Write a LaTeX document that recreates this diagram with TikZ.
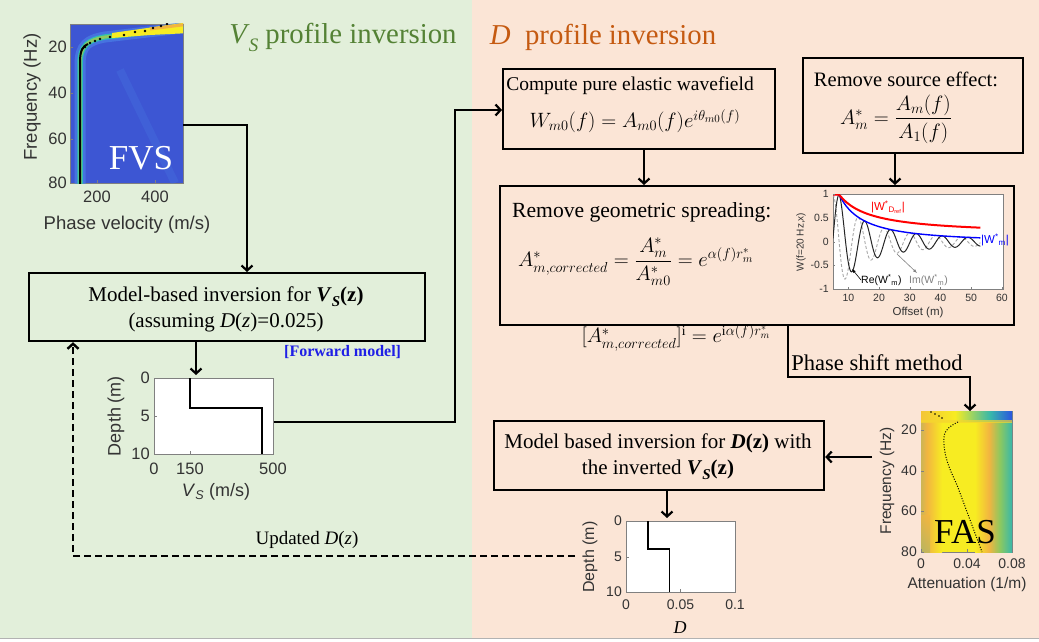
\documentclass[tikz,border=0pt]{standalone}
\usepackage{amsmath}
\usepackage{fontspec}
\setmainfont{Liberation Serif}
\setsansfont{Liberation Sans}
\usetikzlibrary{arrows.meta,calc}
\definecolor{bggreen}{HTML}{E2EFDA}
\definecolor{bgpink}{HTML}{FBE5D6}
\definecolor{tgreen}{HTML}{548235}
\definecolor{torange}{HTML}{C55A11}
\definecolor{fblue}{HTML}{1F1FE6}
\definecolor{pblue}{HTML}{3D56D3}
\definecolor{pblue2}{HTML}{4A7FE6}
\definecolor{pcyan}{HTML}{2DBDB4}
\definecolor{pyel}{HTML}{F7EC22}
\definecolor{porange}{HTML}{F2B540}
\definecolor{pgreen}{HTML}{8CC860}
\definecolor{pteal}{HTML}{38B8AA}
\definecolor{pdblue}{HTML}{2A55E0}
\definecolor{axgray}{HTML}{808080}
\newcommand\fsz[2]{\fontsize{#1}{#2}\selectfont}
\begin{document}
\begin{tikzpicture}[x=1pt,y=-1pt,
  box/.style={draw=black,line width=2.2pt,inner sep=0pt},
  conn/.style={line width=2.2pt,-{Straight Barb[length=5pt,width=11pt]}},
  fb/.style={line width=2.4pt,dash pattern=on 7pt off 4pt,-{Straight Barb[length=5pt,width=11pt]}},
  axbox/.style={draw=axgray,line width=0.7pt,inner sep=0pt,anchor=north west},
  tick/.style={font=\sffamily\fsz{16.5}{16.5},text=black!80,inner sep=1pt},
  stick/.style={font=\sffamily\fsz{14}{14},text=black!80,inner sep=1pt},
  itick/.style={font=\sffamily\fsz{10.5}{10.5},text=black!80,inner sep=1pt},
  mtext/.style={font=\fsz{21}{26},inner sep=0pt}]
\useasboundingbox (0,0) rectangle (1039,642);
% backgrounds
\fill[bggreen] (0,0) rectangle (472,638);
\fill[bgpink] (472,0) rectangle (1039,638);
\draw[gray!60,line width=1pt] (0,638.5) -- (1039,638.5);
% titles
\node[text=tgreen,font=\fsz{28.8}{32},inner sep=0pt] (t1) at (343,37) {\textit{V}\kern-1pt\raisebox{-0.28em}{\fsz{19}{19}\textit{S}} profile inversion};
\node[text=torange,font=\fsz{28.8}{32},inner sep=0pt] (t2) at (603,37) {\textit{D}\ \ profile inversion};
% ---------------- FVS plot
\node[axbox,minimum width=113pt,minimum height=159pt,fill=pblue] (fvs) at (70,24) {};
\begin{scope}
\clip (70,24) rectangle (183,183);
\draw[pblue2,line width=8pt,opacity=0.25] (120,70) -- (175,183);
\draw[pblue2,line width=11pt,opacity=0.7] (80,195) -- (80,65) .. controls (80,45) and (88,40) .. (105,37) -- (190,27);
\draw[pcyan,line width=5.5pt] (80,195) -- (80,65) .. controls (80,45) and (88,40) .. (105,37) -- (190,27);
\draw[pgreen,line width=3pt] (80,195) -- (80,65) .. controls (80,45) and (88,40) .. (105,37) -- (190,27);
\fill[pyel] (112,33) -- (190,22) -- (190,33) -- (150,35) -- (112,38) -- cycle;
\draw[porange,line width=3pt] (150,29) -- (190,24);
\draw[black,line width=2pt] (80,185) -- (80,62) .. controls (80,50) and (83,46) .. (88,44);
\foreach \px/\py in {85/47,90/43,95/41,100/39,110/37,124/35,135/32,145/31,153/28,161/26,167/24}
  \fill[black] (\px,\py) circle (1.3pt);
\end{scope}
\node[text=white,font=\fsz{35}{35},inner sep=0pt] (fvslab) at (141,158) {FVS};
\foreach \yy/\lab in {47/20,93/40,139/60,183/80}{
  \draw[axgray,line width=0.6pt] (70,\yy) -- (73,\yy);
  \node[tick,anchor=east] (fy\lab) at (68,\yy) {\lab};}
\foreach \xx/\lab in {97/200,155/400}{
  \draw[axgray,line width=0.6pt] (\xx,183) -- (\xx,180);
  \node[tick,anchor=north] (fx\lab) at (\xx,190) {\lab};}
\node[font=\sffamily\fsz{18.5}{18.5},text=black!80,rotate=90] (fvsyl) at (32,97) {Frequency (Hz)};
\node[font=\sffamily\fsz{18.5}{18.5},text=black!80] (fvsxl) at (127,225) {Phase velocity (m/s)};
% ---------------- box 1
\node[box,minimum width=396pt,minimum height=68pt,anchor=north west] (box1) at (28,272) {};
\node[mtext] (b1l1) at (226,297) {Model-based inversion for \textbf{\textit{V}}\raisebox{-0.25em}{\fsz{15}{15}\textbf{\textit{S}}}\textbf{(z)}};
\node[mtext] (b1l2) at (226,322) {(assuming \textit{D}(\textit{z})=0.025)};
\node[anchor=west,text=fblue,font=\bfseries\fsz{16}{16},inner sep=0pt] (fm) at (284,352) {[Forward model]};
\coordinate (a1s) at (183,125);
\draw[conn] (a1s) -| ($(box1.north west)+(219,0)$);
% ---------------- Vs depth plot
\node[axbox,minimum width=119pt,minimum height=76pt,fill=white] (vsp) at (154,378) {};
\draw[black,line width=1.8pt] (190,378) -- (190,408) -- (262,408) -- (262,454);
\foreach \yy/\lab in {378/0,416/5,454/10}{
  \draw[axgray,line width=0.6pt] (154,\yy) -- (157,\yy);
  \node[tick,anchor=east] (vy\lab) at (151,\yy) {\lab};}
\foreach \xx/\lab in {154/0,190/150,273/500}{
  \draw[axgray,line width=0.6pt] (\xx,454) -- (\xx,451);
  \node[tick,anchor=north] (vx\lab) at (\xx,462) {\lab};}
\node[font=\sffamily\fsz{18}{18},text=black!80,rotate=90] (vsyl) at (116,416) {Depth (m)};
\node[font=\sffamily\fsz{18}{18},text=black!80] (vsxl) at (216,492) {\textit{V}\textsubscript{\textit{S}} (m/s)};
\draw[conn,shorten >=3pt] ($(box1.south west)+(168,0)$) -- ($(vsp.north west)+(42,0)$);
% ---------------- compute box
\node[box,minimum width=272pt,minimum height=80pt,anchor=north west] (comp) at (502,68) {};
\node[font=\fsz{19.5}{24},inner sep=0pt] (cl1) at (630,86) {Compute pure elastic wavefield};
\node[font=\fsz{22.5}{26},inner sep=0pt] (cl2) at (635,121) {$W_{m0}(f) = A_{m0}(f)e^{i\theta_{m0}(f)}$};
\coordinate (c1) at (455,422);
\coordinate (c2) at (455,110);
\draw[conn] (vsp.east |- c1) -- (c1) -- (c2) -- (comp.west |- c2);
% ---------------- source box
\node[box,minimum width=220pt,minimum height=95pt,anchor=north west] (src) at (802,57) {};
\node[font=\fsz{20.5}{24},inner sep=0pt] (sl1) at (906,79) {Remove source effect:};
\node[font=\fsz{21}{26},inner sep=0pt] (sl2) at (896,119) {$A^*_m = \dfrac{A_m(f)}{A_1(f)}$};
% ---------------- geometric box
\node[box,minimum width=514pt,minimum height=139pt,anchor=north west] (geo) at (499,185) {};
\node[font=\fsz{21.6}{26},inner sep=0pt,anchor=west] (gl1) at (512,212) {Remove geometric spreading:};
\node[font=\fsz{21.5}{26},inner sep=0pt,anchor=west] (gl2) at (518,262) {$A^*_{m,corrected} = \dfrac{A^*_m}{A^*_{m0}} = e^{\alpha(f) r^*_m}$};
\draw[conn] ($(comp.south west)+(142,0)$) -- ($(geo.north west)+(145,0)$);
\draw[conn] ($(src.south west)+(93,0)$) -- ($(geo.north west)+(396,0)$);
% inset
\node[axbox,minimum width=170pt,minimum height=95pt,fill=white] (ins) at (833,194) {};
\begin{scope}
\clip (833,194) rectangle (1003,289);
\draw[gray!70,line width=0.9pt,dash pattern=on 3pt off 2pt] plot[domain=5:53,samples=200,smooth] ({833+(\x-5)*3.07},{242+47.5*sin((\x-7)*42.857)/(1+0.135*(max(\x,7)-7)+0.002*(max(\x,7)-7)*(max(\x,7)-7))});
\draw[black!85,line width=1pt] plot[domain=5:53,samples=200,smooth] ({833+(\x-5)*3.07},{242-47.5*cos((\x-7)*42.857)/(1+0.135*(max(\x,7)-7)+0.002*(max(\x,7)-7)*(max(\x,7)-7))});
\draw[blue,line width=1.4pt] plot[domain=5:53,samples=80,smooth] ({833+(\x-5)*3.07},{242-47.5/(1+0.135*(max(\x,7)-7)+0.002*(max(\x,7)-7)*(max(\x,7)-7))});
\draw[red,line width=2pt] plot[domain=5:53,samples=80,smooth] ({833+(\x-5)*3.07},{242-47.5*(0.15+0.85/(1+0.1*(max(\x,7)-7)))});
\end{scope}
\foreach \yy/\lab in {194/1,218/0.5,242/0,265/-0.5,289/-1}{
  \draw[axgray,line width=0.5pt] (833,\yy) -- (835,\yy);
  \node[itick,anchor=east] (iy\yy) at (830,\yy) {\lab};}
\foreach \xx/\lab in {10,20,30,40,50,60}{
  \draw[axgray,line width=0.5pt] ({833+(\xx-5)*3.07},289) -- ({833+(\xx-5)*3.07},287);
  \node[itick,anchor=north] (ix\xx) at ({833+(\xx-5)*3.07},293) {\lab};}
\node[font=\sffamily\fsz{10}{10},text=black!80,rotate=90] (insyl) at (801,242) {W(f=20 Hz,x)};
\node[font=\sffamily\fsz{11.5}{11.5},text=black!80] (insxl) at (918,313) {Offset (m)};
\node[font=\sffamily\fsz{11.5}{11.5},text=red,inner sep=0pt] (lred) at (888,207) {|W\textsuperscript{*}\textsubscript{D\textsubscript{ref}}|};
\node[font=\sffamily\fsz{11.5}{11.5},text=blue,inner sep=0pt] (lblue) at (995,240) {|W\textsuperscript{*}\textsubscript{m}|};
\node[font=\sffamily\fsz{10.5}{10.5},text=black,inner sep=0pt,anchor=west] (lre) at (861,280) {Re(W\textsuperscript{*}\textsubscript{m})};
\node[font=\sffamily\fsz{10.5}{10.5},text=gray,inner sep=0pt,anchor=west] (lim) at (909,280) {Im(W\textsuperscript{*}\textsubscript{m})};
\draw[black,line width=0.6pt,-{Latex[length=4pt,width=3pt]}] (lre.west) -- (852,269);
\coordinate (gim) at (897,254);
\draw[gray,line width=0.6pt,-{Latex[length=4pt,width=3pt]}] (gim) -- (917,273);
% ---------------- phase shift
\node[font=\fsz{19.5}{22},inner sep=0pt] (eqi) at (676,338) {$[A^*_{m,corrected}]^{\mathrm{i}} = e^{\mathrm{i}\alpha(f) r^*_m}$};
\node[font=\fsz{22.5}{26},inner sep=0pt] (psm) at (877,363) {Phase shift method};
% ---------------- FAS plot
\node[axbox,minimum width=91pt,minimum height=141pt,fill=pyel] (fas) at (921,411) {};
\begin{scope}
\clip (921,411) rectangle (1012,552);
\shade[left color=porange!80!pteal,right color=porange] (921,411) rectangle (927,552);
\shade[left color=porange,right color=pyel] (927,411) rectangle (942,552);
\fill[pyel] (942,411) rectangle (975,552);
\shade[left color=pyel,right color=porange] (975,411) rectangle (989,552);
\shade[left color=porange,right color=pgreen] (989,411) rectangle (1000,552);
\shade[left color=pgreen,right color=pteal] (1000,411) rectangle (1012,552);
\shade[top color=porange,bottom color=porange!60!pteal,opacity=0.6] (921,515) rectangle (930,552);
\shade[left color=porange!70!pyel,right color=pyel] (921,411) rectangle (955,421);
\shade[left color=pyel,right color=pteal] (955,411) rectangle (990,421);
\shade[left color=pteal,right color=pdblue] (990,411) rectangle (1012,421);
\fill[porange!40!pyel,opacity=0.7] (921,420) rectangle (1012,423);
\foreach \px/\py in {928/410,931/412,935/414,939/416,942/418}
  \fill[black] (\px,\py) circle (0.9pt);
\draw[black,line width=1pt,dash pattern=on 1pt off 1.6pt] (958,422) .. controls (950,426) and (944,430) .. (944,438) .. controls (943,455) and (950,470) .. (957,485) -- (982,552);
\end{scope}
\node[text=black,font=\fsz{35}{35},inner sep=0pt] (faslab) at (965,532) {FAS};
\foreach \yy/\lab in {430/20,471/40,511/60,552/80}{
  \draw[axgray,line width=0.6pt] (921,\yy) -- (924,\yy);
  \node[stick,anchor=east] (ay\lab) at (918,\yy) {\lab};}
\foreach \xx/\lab in {921/0,967/0.04,1012/0.08}{
  \draw[axgray,line width=0.6pt] (\xx,552) -- (\xx,549);
  \node[stick,anchor=north] (ax\xx) at (\xx,558) {\lab};}
\node[font=\sffamily\fsz{15.5}{15.5},text=black!80,rotate=90] (fasyl) at (887,481) {Frequency (Hz)};
\node[font=\sffamily\fsz{15.5}{15.5},text=black!80] (fasxl) at (967,584) {Attenuation (1/m)};
\coordinate (g1) at (788,377);
\draw[conn] ($(geo.south west)+(289,0)$) |- (g1) -| ($(fas.north west)+(49,0)$);
% ---------------- D box
\node[box,minimum width=330pt,minimum height=69pt,anchor=north west] (dbox) at (493,420) {};
\node[mtext] (dl1) at (658,443) {Model based inversion for \textbf{\textit{D}}\textbf{(z)} with};
\node[mtext] (dl2) at (658,470) {the inverted \textbf{\textit{V}}\raisebox{-0.25em}{\fsz{15}{15}\textbf{\textit{S}}}\textbf{(z)}};
\coordinate (f1) at (872,457);
\draw[conn] (f1) -- (dbox.east |- f1);
% ---------------- D depth plot
\node[axbox,minimum width=109pt,minimum height=71pt,fill=white] (dp) at (626,521) {};
\draw[black,line width=1.8pt] (648,521) -- (648,549) -- (669.5,549) -- (669.5,592);
\foreach \yy/\lab in {521/0,557/5,592/10}{
  \draw[axgray,line width=0.6pt] (626,\yy) -- (629,\yy);
  \node[stick,anchor=east] (dy\lab) at (623,\yy) {\lab};}
\foreach \xx/\lab in {626/0,680.5/0.05,735/0.1}{
  \draw[axgray,line width=0.6pt] (\xx,592) -- (\xx,589);
  \node[stick,anchor=north] (dx\xx) at (\xx,599) {\lab};}
\node[font=\sffamily\fsz{16}{16},text=black!80,rotate=90] (dpyl) at (590,557) {Depth (m)};
\node[font=\itshape\fsz{18}{18},inner sep=0pt] (dpxl) at (680,628) {D};
\draw[conn,shorten >=3pt] ($(dbox.south west)+(174,0)$) -- ($(dp.north west)+(41,0)$);
% ---------------- dashed feedback
\coordinate (d1) at (575,556);
\coordinate (d2) at (73,556);
\draw[fb] (d1) -- (d2) -- (box1.south -| d2);
\node[font=\fsz{19}{19},inner sep=0pt] (upd) at (307,540) {Updated \textit{D}(\textit{z})};
\end{tikzpicture}
\end{document}
